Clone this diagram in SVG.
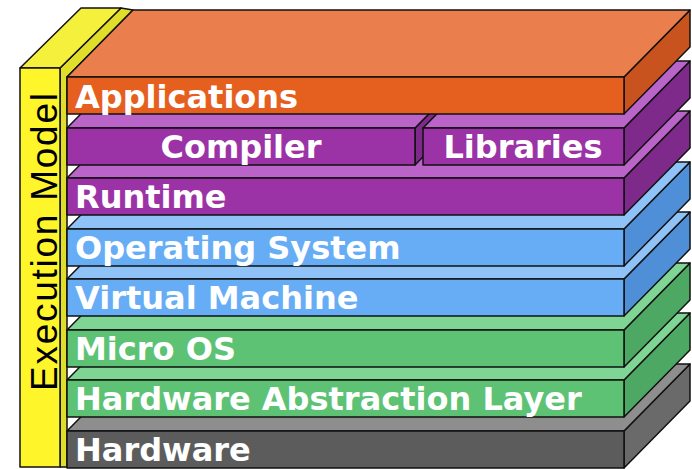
<svg xmlns="http://www.w3.org/2000/svg" width="692" height="469" viewBox="0 0 692 469">
<style>
.s{stroke:#111;stroke-width:1.5;stroke-linejoin:round}
.lbl{font-family:"DejaVu Sans",Verdana,sans-serif;font-weight:bold;font-size:32px;fill:#fff}
.or .f{fill:#E5601F}.or .t{fill:#EA7E4C}.or .d{fill:#C9531F}
.pu .f{fill:#9B33A6}.pu .t{fill:#BA63C8}.pu .d{fill:#7E2A8B}
.bl .f{fill:#66ADF5}.bl .t{fill:#8FC3F8}.bl .d{fill:#4F8FD8}
.gr .f{fill:#5EC275}.gr .t{fill:#7ED594}.gr .d{fill:#4DA864}
.gy .f{fill:#5C5C5C}.gy .t{fill:#8E8E8E}.gy .d{fill:#6A6A6A}
</style>
<rect width="692" height="469" fill="#fff"/>
<g id="execution-model">
<polygon class="s" points="60,68 121,8 133,10 67,77 67,467 60,467" fill="#E0DE2A"/>
<polygon class="s" points="20,68 60,68 121,8 81,8" fill="#F4F03C"/>
<rect class="s" x="20" y="68" width="40" height="399" fill="#FFF52B"/>
<text transform="translate(57,391) rotate(-90)" font-family="Liberation Sans,Arial,sans-serif" font-size="37" fill="#000" textLength="298" lengthAdjust="spacing">Execution Model</text>
</g>
<g id="hardware" class="gy">
<polygon class="s d" points="624,431 690,364 690,401 624,468"/>
<polygon class="s t" points="67,431 624,431 690,364 133,364"/>
<rect class="s f" x="67" y="431" width="557" height="37"/>
<text class="lbl" x="75" y="461">Hardware</text>
</g>
<g id="hal" class="gr">
<polygon class="s d" points="624,380 690,313 690,350 624,417"/>
<polygon class="s t" points="67,380 624,380 690,313 133,313"/>
<rect class="s f" x="67" y="380" width="557" height="37"/>
<text class="lbl" x="75" y="410">Hardware Abstraction Layer</text>
</g>
<g id="micro-os" class="gr">
<polygon class="s d" points="624,330 690,263 690,300 624,367"/>
<polygon class="s t" points="67,330 624,330 690,263 133,263"/>
<rect class="s f" x="67" y="330" width="557" height="37"/>
<text class="lbl" x="75" y="360">Micro OS</text>
</g>
<g id="virtual-machine" class="bl">
<polygon class="s d" points="624,279 690,212 690,249 624,316"/>
<polygon class="s t" points="67,279 624,279 690,212 133,212"/>
<rect class="s f" x="67" y="279" width="557" height="37"/>
<text class="lbl" x="75" y="309">Virtual Machine</text>
</g>
<g id="operating-system" class="bl">
<polygon class="s d" points="624,229 690,162 690,199 624,266"/>
<polygon class="s t" points="67,229 624,229 690,162 133,162"/>
<rect class="s f" x="67" y="229" width="557" height="37"/>
<text class="lbl" x="75" y="259">Operating System</text>
</g>
<g id="runtime" class="pu">
<polygon class="s d" points="624,178 690,111 690,148 624,215"/>
<polygon class="s t" points="67,178 624,178 690,111 133,111"/>
<rect class="s f" x="67" y="178" width="557" height="37"/>
<text class="lbl" x="75" y="208">Runtime</text>
</g>
<g id="compiler" class="pu">
<polygon class="s d" points="415,128 481,61 481,98 415,165"/>
<polygon class="s t" points="67,128 415,128 481,61 133,61"/>
<rect class="s f" x="67" y="128" width="348" height="37"/>
<text class="lbl" x="241" y="158" text-anchor="middle">Compiler</text>
</g>
<g id="libraries" class="pu">
<polygon class="s d" points="624,128 690,61 690,98 624,165"/>
<polygon class="s t" points="423,128 624,128 690,61 489,61"/>
<rect class="s f" x="423" y="128" width="201" height="37"/>
<text class="lbl" x="523" y="158" text-anchor="middle">Libraries</text>
</g>
<g id="applications" class="or">
<polygon class="s d" points="624,77 690,10 690,47 624,114"/>
<polygon class="s t" points="67,77 624,77 690,10 133,10"/>
<rect class="s f" x="67" y="77" width="557" height="37"/>
<text class="lbl" x="75" y="108">Applications</text>
</g>
<g id="connectors"/>
</svg>
